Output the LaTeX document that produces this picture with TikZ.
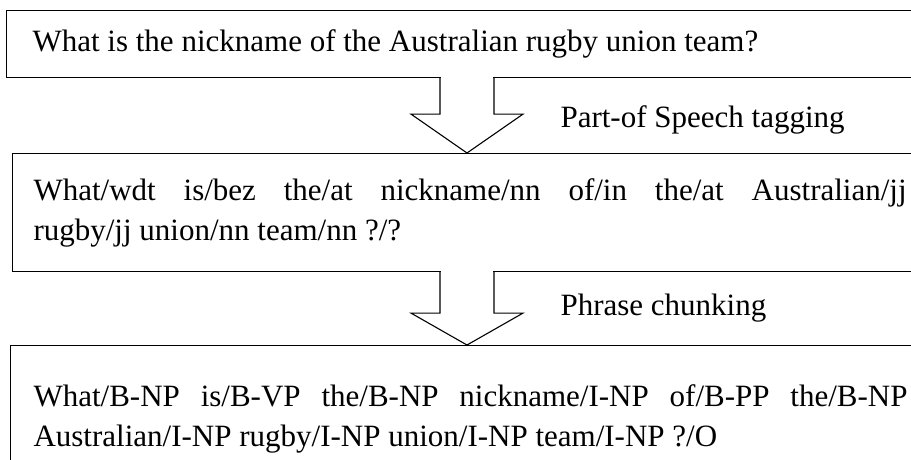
\documentclass[tikz,border=0pt]{standalone}
\usepackage{fontspec}
\setmainfont{Liberation Serif}
\usetikzlibrary{calc}

% justified first lines, no hyphenation
\tolerance=10000 \hbadness=10000
\hyphenpenalty=10000 \exhyphenpenalty=10000

\tikzset{
    stage/.style={draw, rectangle, anchor=north west, inner ysep=0pt,
        align=justify, font=\fontsize{31}{40}\selectfont},
    step label/.style={anchor=base west, inner sep=0pt,
        font=\fontsize{31}{40}\selectfont}
}

% hollow block arrow from one stage to the next
\newcommand{\stagearrow}[3]{%
    \fill[white] ($(axis |- #1.south)+(-26.4,-1)$) rectangle ($(axis |- #1.south)+(26.4,1.5)$);
    \draw[line join=miter] ($(axis |- #1.south)+(-27,0)$) -- ++(0,#3) -- ++(-29,0)
        -- (axis |- #2.north)
        -- ($(axis |- #1.south)+(56,#3)$) -- ++(-29,0) -- ++(0,-#3);
}

\begin{document}
\begin{tikzpicture}[x=1pt, y=-1pt, line width=1.1pt]
    \useasboundingbox (0,0) rectangle (911,459);

    \node[stage, text width=880pt, inner xsep=26pt, minimum height=67pt] (question) at (6,10)
        {What is the nickname of the Australian rugby union team?};
    \node[stage, text width=873pt, inner xsep=21pt, minimum height=118pt] (tagged) at (12,153)
        {What/wdt is/bez the/at nickname/nn of/in the/at Australian/jj\linebreak
         rugby/jj union/nn team/nn ?/?};
    \node[stage, text width=874pt, inner xsep=23pt, minimum height=147pt] (chunked) at (10,345)
        {What/B-NP is/B-VP the/B-NP nickname/I-NP of/B-PP the/B-NP\linebreak
         Australian/I-NP rugby/I-NP union/I-NP team/I-NP ?/O};

    \coordinate (axis) at (467,0);
    \stagearrow{question}{tagged}{36}
    \stagearrow{tagged}{chunked}{41}

    \node[step label] (pos) at (560,127) {Part-of Speech tagging};
    \node[step label] (chunk) at (560,315) {Phrase chunking};
\end{tikzpicture}
\end{document}
